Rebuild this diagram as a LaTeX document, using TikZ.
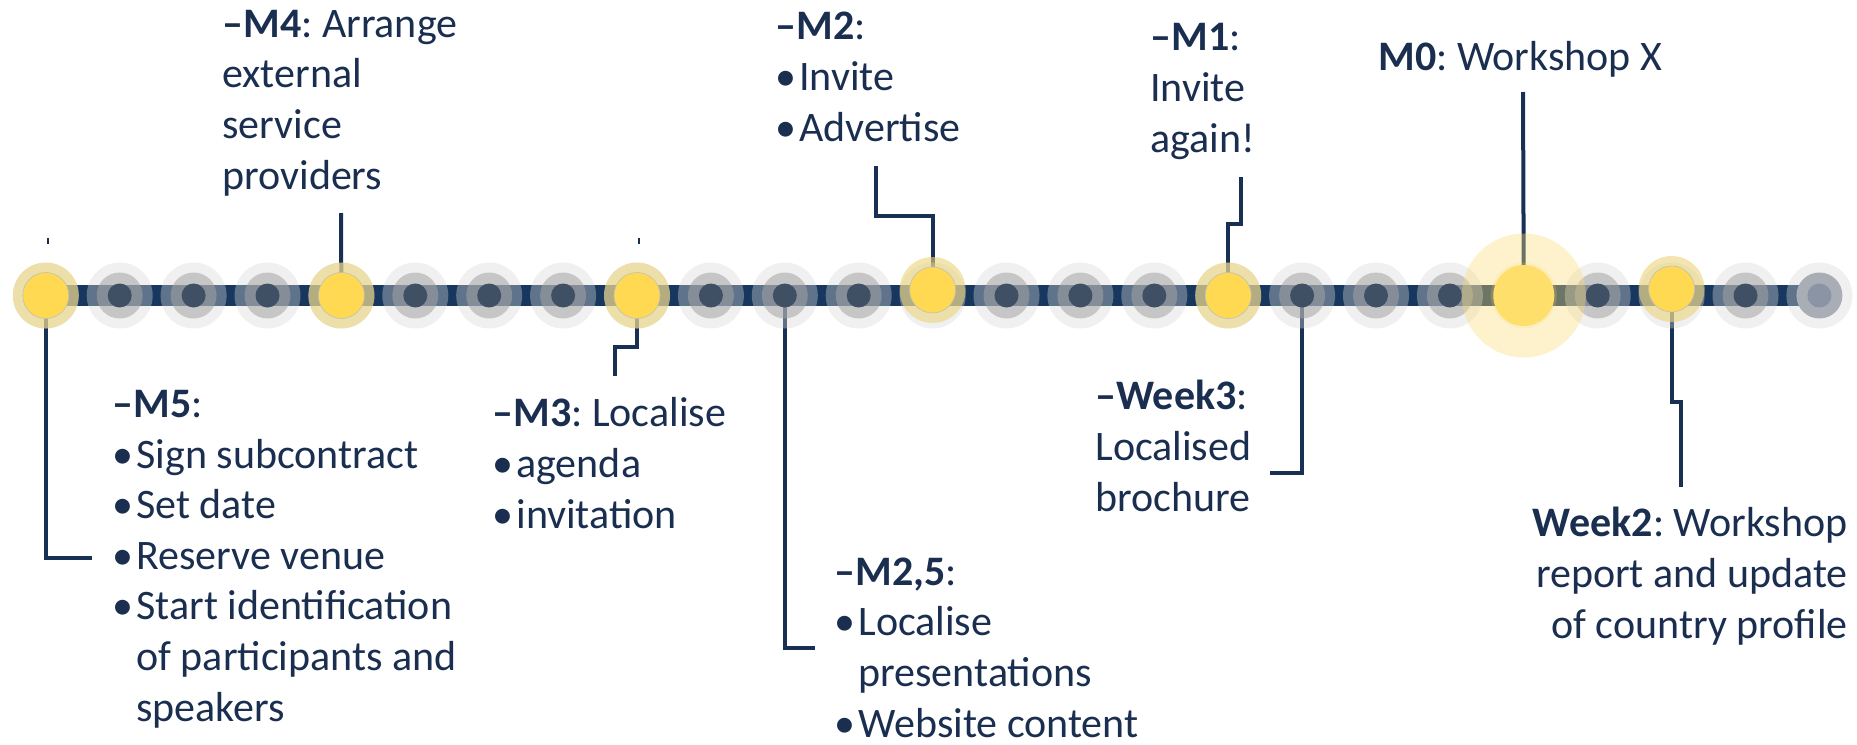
\documentclass[tikz,border=0pt]{standalone}
\usepackage{fontspec}
\setmainfont{Carlito}
\frenchspacing
\definecolor{txtnavy}{RGB}{26,46,80}
\definecolor{linenavy}{RGB}{24,48,84}
\definecolor{barnavy}{RGB}{24,55,94}
\definecolor{halogrey}{RGB}{215,215,215}
\definecolor{ringgrey}{RGB}{164,164,164}
\definecolor{coregrey}{RGB}{63,80,100}
\definecolor{haloyellow}{RGB}{235,212,123}
\definecolor{coreyellow}{RGB}{255,217,82}
\definecolor{bighalo}{RGB}{250,221,120}
\definecolor{bigcore}{RGB}{255,223,107}
\definecolor{endring}{RGB}{169,173,182}
\definecolor{endcore}{RGB}{139,148,164}
\newcommand{\bul}{\makebox[12pt][l]{\textbullet}}
\newcommand{\ind}{\hspace*{12pt}}

\begin{document}
\begin{tikzpicture}[x=0.5pt, y=-0.5pt,
    font=\fontsize{21}{25.3}\selectfont, color=txtnavy,
    conn/.style={linenavy, line width=2pt},
    bar/.style={barnavy, line width=10.5pt, line cap=round},
    greyhalo/.style={fill=halogrey, fill opacity=0.375},
    greyring/.style={fill=ringgrey, fill opacity=0.55},
    greycore/.style={fill=coregrey},
    yelhalo/.style={fill=haloyellow, fill opacity=0.6},
    yelcore/.style={fill=coreyellow, draw=black!25, line width=0.3pt},
    lbl/.style={inner sep=0pt, align=left, anchor=base west}]
        \useasboundingbox (0,0) rectangle (1857,744);
        % dots on the time line
        \foreach \i in {0,...,24}
        \coordinate (d\i) at ({45.8+73.9*\i}, 295.5);
        \coordinate (d12) at (932.6, 290);
        \coordinate (d22) at (1671.6, 289);
        \coordinate (barend) at (1805, 295.5);
        % free ends of the connectors
        \coordinate (c5) at (92, 558);
        \coordinate (c4) at (341, 213);
        \coordinate (c3a) at (615, 347);
        \coordinate (c3) at (615, 376);
        \coordinate (c25) at (815, 648);
        \coordinate (c2a) at (876, 216);
        \coordinate (c2) at (876, 166);
        \coordinate (c1a) at (1241, 224);
        \coordinate (c1) at (1241, 177);
        \coordinate (cw3) at (1270, 473);
        \coordinate (c0) at (1523, 92);
        \coordinate (cw2a) at (1681, 402);
        \coordinate (cw2) at (1681, 487);
        % labels (placed at the baseline of their last line)
        \node[lbl] (m4) at (222, 189) {\textbf{--M4}: Arrange\\external\\service\\providers};
        \node[lbl] (m5) at (112, 721) {\textbf{--M5}:\\\bul Sign subcontract\\\bul Set date\\\bul Reserve venue\\\bul Start identification\\\ind of participants and\\\ind speakers};
        \node[lbl] (m3) at (492, 528) {\textbf{--M3}: Localise\\\bul agenda\\\bul invitation};
        \node[lbl] (m25) at (834, 737) {\textbf{--M2,5}:\\\bul Localise\\\ind presentations\\\bul Website content};
        \node[lbl] (m2) at (775, 141) {\textbf{--M2}:\\\bul Invite\\\bul Advertise};
        \node[lbl] (m1) at (1150, 152) {\textbf{--M1}:\\Invite\\again!};
        \node[lbl] (m0) at (1378, 70) {\textbf{M0}: Workshop X};
        \node[lbl] (w3) at (1095, 511) {\textbf{--Week3}:\\Localised\\brochure};
        \node[lbl, align=right, anchor=base east] (w2) at (1848, 638) {\textbf{Week2}: Workshop\\report and update\\of country profile};
        % connectors
        \draw[conn] (d0) |- (c5);
        \draw[conn] (d4) -- (c4);
        \draw[conn] (d8) |- (c3a) -- (c3);
        \draw[conn] (d10) |- (c25);
        \draw[conn] (d12) |- (c2a) -- (c2);
        \draw[conn] (d16) |- (c1a) -- (c1);
        \draw[conn] (d17) |- (cw3);
        \draw[conn] (d20) -- (c0);
        \draw[conn] (d22) |- (cw2a) -- (cw2);
        \draw[conn, line width=1pt] (48, 238) -- (48, 244);
        \draw[conn, line width=1pt] (639, 238) -- (639, 244);
        % time line
        \draw[bar] (d0) -- (barend);
        \foreach \i in {1,2,3,5,6,7,9,10,11,13,14,15,17,18,19,21,23} {
        \fill[greyhalo] (d\i) circle (33);
        \fill[greyring] (d\i) circle (23);
        \fill[greycore] (d\i) circle (12);
        }
        \fill[greyhalo] (d24) circle (33);
        \fill[endring] (d24) circle (23);
        \fill[endcore] (d24) circle (12);
        \foreach \i in {0,4,8,12,16,22} {
        \fill[greyhalo] (d\i |- d1) circle (33);
        \fill[yelhalo] (d\i) circle (33);
        \filldraw[yelcore] (d\i) circle (23);
        }
        % workshop
        \fill[bighalo, fill opacity=0.375] (d20) circle (62);
        \fill[bighalo, fill opacity=0.2] (d20) circle (33);
        \fill[bigcore] (d20) circle (30.5);
\end{tikzpicture}
\end{document}
